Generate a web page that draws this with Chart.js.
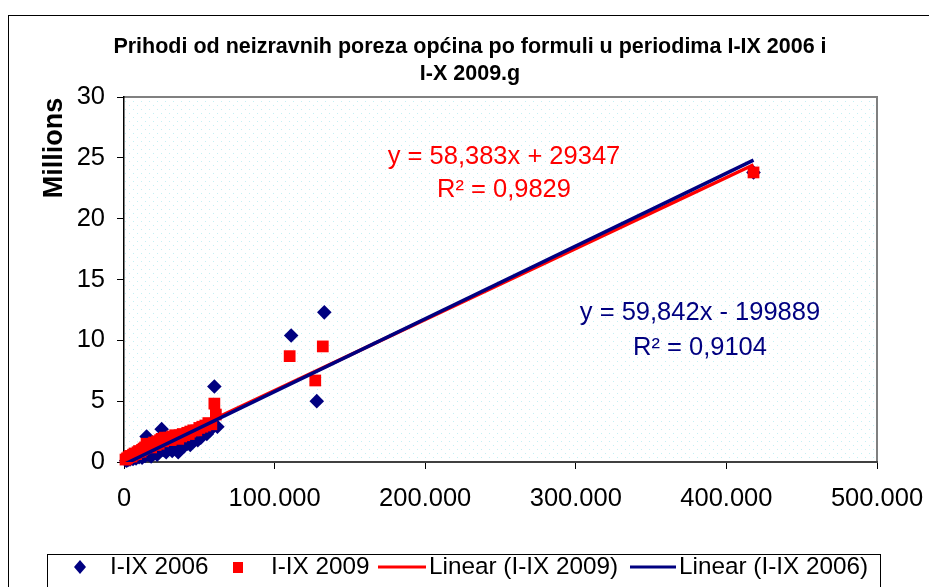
<!DOCTYPE html>
<html>
<head>
<meta charset="utf-8">
<script src="https://cdn.jsdelivr.net/npm/chart.js@4.4.1/dist/chart.umd.min.js"></script>
<style>
  html, body { margin: 0; padding: 0; background: #fff; }
  canvas { display: block; }
</style>
</head>
<body>
<canvas id="chart" width="929" height="587"></canvas>
<script>
const titleLines = ['Prihodi od neizravnih poreza općina po formuli u periodima I-IX 2006 i', 'I-X 2009.g'];
const yAxisTitle = 'Millions';
const legendLabels = ['I-IX 2006', 'I-IX 2009', 'Linear (I-IX 2009)', 'Linear (I-IX 2006)'];
const xTickValues = [0, 100000, 200000, 300000, 400000, 500000];
const yTickValues = [0, 5, 10, 15, 20, 25, 30];

// I-IX 2006 (x = base, y = millions)
const x2006 = [1500, 2500, 3000, 4000, 5000, 6000, 7000, 8000, 9000, 10000,
  11000, 12000, 13000, 14000, 15000, 16000, 17000, 18000, 19000, 20000,
  21000, 22000, 23000, 24000, 25000, 26000, 27000, 28000, 29000, 30000,
  31000, 32000, 33000, 34000, 35000, 36000, 37000, 38000, 39000, 40000,
  42000, 43000, 44000, 46000, 48000, 49000, 51000, 53000, 55000, 57000,
  60000, 62000, 111000, 128000, 133000, 418000];
const y2006 = [0.1, 0.15, 0.3, 0.2, 0.35, 0.25, 0.45, 0.3, 0.5, 0.4,
  0.6, 0.35, 0.7, 0.5, 2.1, 0.6, 0.9, 0.45, 1.0, 0.7,
  1.1, 0.6, 1.3, 0.9, 2.7, 1.0, 1.4, 0.8, 1.5, 1.1,
  1.7, 0.9, 1.3, 1.8, 1.0, 0.8, 1.6, 1.2, 2.0, 1.3,
  1.5, 2.2, 1.4, 1.7, 2.3, 1.8, 2.0, 2.4, 2.3, 2.6,
  6.2, 2.9, 10.4, 5.0, 12.3, 23.8];

// I-IX 2009
const x2009 = [1000, 2000, 3000, 4000, 5000, 6000, 7000, 8000, 9000, 10000,
  11000, 12000, 13000, 14000, 15000, 16000, 17000, 18000, 19000, 20000,
  21000, 22000, 23000, 24000, 25000, 26000, 27000, 28000, 29000, 30000,
  31000, 32000, 33000, 34000, 35000, 36000, 37000, 38000, 39000, 40000,
  42000, 43000, 44000, 46000, 48000, 50000, 52000, 54000, 56000, 58000,
  60000, 61000, 110000, 127000, 132000, 418000];
const y2009 = [0.2, 0.3, 0.4, 0.5, 0.45, 0.6, 0.7, 0.65, 0.8, 0.9,
  0.85, 1.0, 1.1, 1.2, 1.5, 1.3, 1.4, 1.2, 1.5, 1.6,
  1.4, 1.7, 1.5, 1.8, 1.9, 1.7, 2.0, 1.8, 1.9, 2.0,
  1.8, 2.1, 2.0, 2.2, 2.0, 1.9, 2.2, 2.1, 2.3, 2.2,
  2.4, 2.3, 2.5, 2.6, 2.6, 2.8, 2.9, 3.0, 3.2, 3.1,
  4.8, 3.9, 8.7, 6.7, 9.5, 23.8];

// trend line end points (from the shown equations)
const trendX = [1000, 418000];
const trend2009 = [0.09, 24.43];
const trend2006 = [-0.14, 24.81];

const eq2009 = ['y = 58,383x + 29347', 'R² = 0,9829'];
const eq2006 = ['y = 59,842x - 199889', 'R² = 0,9104'];

const NAVY = '#000080';
const RED = '#ff0000';
const FONT = '"Liberation Sans", Arial, sans-serif';

const toPoints = (xs, ys) => xs.map((x, i) => ({ x: x, y: ys[i] }));

const fmt = v => String(v).replace(/\B(?=(\d{3})+(?!\d))/g, '.');

// dotted plot background
const tile = document.createElement('canvas');
tile.width = 8; tile.height = 8;
const tctx = tile.getContext('2d');
tctx.fillStyle = '#c4f0f4';
tctx.fillRect(1, 1, 1, 1);
tctx.fillRect(5, 5, 1, 1);

const decor = {
  id: 'decor',
  beforeDraw(chart) {
    const { ctx, chartArea: a } = chart;
    ctx.save();
    ctx.fillStyle = '#fff';
    ctx.fillRect(0, 0, chart.width, chart.height);
    ctx.strokeStyle = '#000';
    ctx.lineWidth = 1;
    ctx.strokeRect(8.5, 15.5, 940, 600);
    ctx.fillStyle = ctx.createPattern(tile, 'repeat');
    ctx.fillRect(a.left, a.top, a.right - a.left, a.bottom - a.top);
    ctx.strokeStyle = '#808080';
    ctx.lineWidth = 2;
    ctx.beginPath();
    ctx.moveTo(a.left, a.top);
    ctx.lineTo(a.right, a.top);
    ctx.lineTo(a.right, a.bottom);
    ctx.stroke();
    ctx.restore();
  },
  afterDraw(chart) {
    const { ctx } = chart;
    ctx.save();
    // title
    ctx.fillStyle = '#000';
    ctx.textAlign = 'center';
    ctx.textBaseline = 'middle';
    ctx.font = 'bold 21.5px ' + FONT;
    ctx.fillText(titleLines[0], 470, 47);
    ctx.fillText(titleLines[1], 470, 74);
    // y title
    ctx.save();
    ctx.translate(55, 148);
    ctx.rotate(-Math.PI / 2);
    ctx.font = 'bold 27px ' + FONT;
    ctx.fillText(yAxisTitle, 0, 0);
    ctx.restore();
    // equations
    ctx.font = '25.5px ' + FONT;
    ctx.fillStyle = RED;
    ctx.fillText(eq2009[0], 504, 157);
    ctx.fillText(eq2009[1], 504, 190);
    ctx.fillStyle = NAVY;
    ctx.fillText(eq2006[0], 700, 313);
    ctx.fillText(eq2006[1], 700, 348);
    // legend
    ctx.strokeStyle = '#000';
    ctx.lineWidth = 1;
    ctx.strokeRect(47.5, 554.5, 833, 60);
    const ly = 567;
    ctx.fillStyle = NAVY;
    ctx.beginPath();
    ctx.moveTo(80, ly - 7); ctx.lineTo(86, ly); ctx.lineTo(80, ly + 7); ctx.lineTo(74, ly);
    ctx.closePath(); ctx.fill();
    ctx.fillStyle = RED;
    ctx.fillRect(233, ly - 5, 10, 11);
    ctx.lineWidth = 3;
    ctx.strokeStyle = RED;
    ctx.beginPath(); ctx.moveTo(378, ly); ctx.lineTo(426, ly); ctx.stroke();
    ctx.strokeStyle = NAVY;
    ctx.beginPath(); ctx.moveTo(630, ly); ctx.lineTo(676, ly); ctx.stroke();
    ctx.fillStyle = '#000';
    ctx.textAlign = 'left';
    ctx.font = '24.3px ' + FONT;
    ctx.fillText(legendLabels[0], 110, ly);
    ctx.fillText(legendLabels[1], 271, ly);
    ctx.fillText(legendLabels[2], 429, ly);
    ctx.fillText(legendLabels[3], 679, ly);
    ctx.restore();
  }
};

new Chart(document.getElementById('chart'), {
  type: 'scatter',
  data: {
    datasets: [
      {
        label: legendLabels[3],
        type: 'line',
        data: toPoints(trendX, trend2006),
        borderColor: NAVY,
        borderWidth: 3.5,
        pointRadius: 0,
        fill: false,
        order: 0
      },
      {
        label: legendLabels[2],
        type: 'line',
        data: toPoints(trendX, trend2009),
        borderColor: RED,
        borderWidth: 3.5,
        pointRadius: 0,
        fill: false,
        order: 1
      },
      {
        label: legendLabels[1],
        data: toPoints(x2009, y2009),
        pointStyle: 'rect',
        pointRadius: 8.3,
        backgroundColor: RED,
        borderColor: RED,
        borderWidth: 0,
        clip: false,
        order: 2
      },
      {
        label: legendLabels[0],
        data: toPoints(x2006, y2006),
        pointStyle: 'rectRot',
        pointRadius: 7.3,
        backgroundColor: NAVY,
        borderColor: NAVY,
        borderWidth: 0,
        clip: false,
        order: 3
      }
    ]
  },
  options: {
    responsive: false,
    animation: false,
    layout: { padding: { top: 97, right: 52, left: 0, bottom: 0 } },
    plugins: {
      legend: { display: false },
      title: { display: false },
      tooltip: { enabled: false }
    },
    scales: {
      x: {
        type: 'linear',
        min: 0,
        max: 500000,
        afterFit: s => { s.height = 125; s.paddingLeft = 0; s.paddingRight = 0; },
        afterBuildTicks: s => { s.ticks = xTickValues.map(v => ({ value: v })); },
        grid: { drawOnChartArea: false, drawTicks: true, tickLength: 7, color: '#000', tickWidth: 1 },
        border: { color: '#404040', width: 2 },
        ticks: {
          color: '#000',
          font: { family: FONT, size: 25.5 },
          padding: 15,
          maxRotation: 0,
          callback: v => fmt(v)
        }
      },
      y: {
        min: 0,
        max: 30,
        afterFit: s => { s.width = 124; s.paddingTop = 0; s.paddingBottom = 0; },
        afterBuildTicks: s => { s.ticks = yTickValues.map(v => ({ value: v })); },
        grid: { drawOnChartArea: false, drawTicks: true, tickLength: 7, color: '#000', tickWidth: 1 },
        border: { color: '#000', width: 1.5 },
        ticks: {
          color: '#000',
          font: { family: FONT, size: 25.5 },
          padding: 12
        }
      }
    }
  },
  plugins: [decor]
});
</script>
</body>
</html>
